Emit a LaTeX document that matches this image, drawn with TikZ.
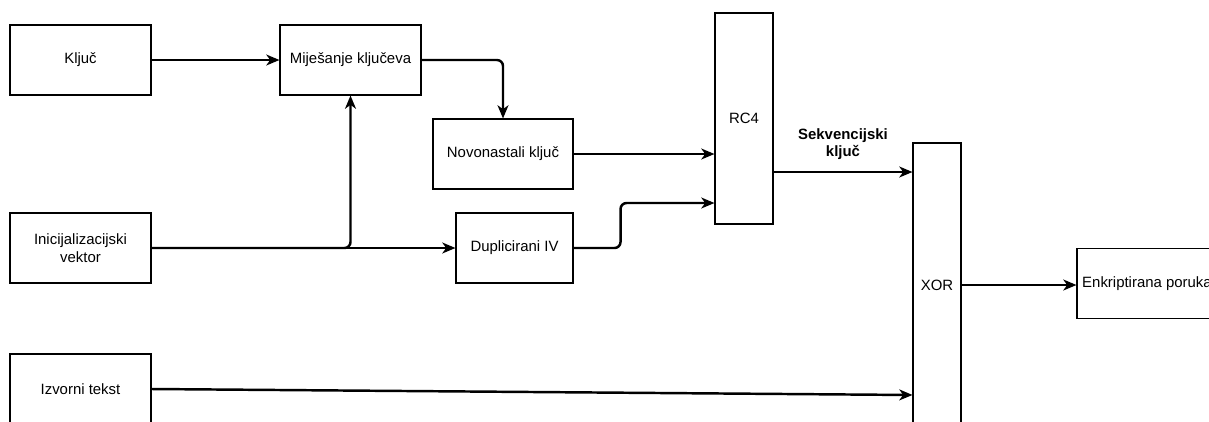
\documentclass[tikz,border=0pt]{standalone}
\usepackage{fontspec}
\setmainfont{Liberation Sans}
\usetikzlibrary{arrows.meta}

\begin{document}
\begin{tikzpicture}[
  box/.style={draw=black, line width=0.6pt, inner sep=0pt, align=center,
    minimum width=2.82cm, minimum height=1.4cm,
    font=\fontsize{8.5}{10}\selectfont},
  arr/.style={line width=1.4pt, rounded corners=0.12cm,
    -{Stealth[length=7.5pt, width=6.2pt, inset=2.2pt]}}
]
\def\xa{1.61};
\def\xb{7.01};
\def\xc{10.06};
\def\xd{10.29};
\def\xe{14.88};
\def\xf{18.74};
\def\xg{22.94};

\def\ya{-1.2};
\def\yb{-3.08};
\def\yc{-4.96};
\def\yd{-7.78};

\useasboundingbox (0,0) rectangle (24.18,-8.42);

\node[box] (kljuc) at (\xa, \ya) {Ključ};
\node[box] (mix) at (\xb, \ya) {Miješanje ključeva};
\node[box, minimum width=2.8cm] (novi) at (\xc, \yb) {Novonastali ključ};
\node[box] (iv) at (\xa, \yc) {Inicijalizacijski\\vektor};
\node[box, minimum width=2.34cm] (dup) at (\xd, \yc) {Duplicirani IV};
\node[box] (izvor) at (\xa, \yd) {Izvorni tekst};

\node[box, minimum width=1.16cm, minimum height=4.22cm] (rc4) at (\xe, -2.37) {RC4};
\node[box, minimum width=0.96cm, minimum height=5.68cm] (xor) at (\xf, -5.7) {XOR};
\node[box, minimum width=2.8cm] (enc) at (\xg, -5.67) {Enkriptirana poruka};

\coordinate (rcin) at ([yshift=-1.69cm]rc4.west);
\coordinate (rcout) at ([yshift=-1.07cm]rc4.east);
\coordinate (xin) at ([yshift=-2.2cm]xor.west);

\draw[arr] (kljuc) -- (mix);
\draw[arr] (mix.east) -| (novi.north);
\draw[arr] (novi.east) -- (novi.east -| rc4.west);
\draw[arr] (iv) -- (dup);
\draw[arr] (iv.east) -| (mix.south);
\draw[arr] (dup.east) -- ++(0.94,0) |- (rcin);
\draw[arr] (rcout) -- (rcout -| xor.west);
\draw[arr] (izvor.east) -- (xin);
\draw[arr] (xor.east) -- (xor.east -| enc.west);

\node[align=center, font=\fontsize{8.5}{10}\selectfont\bfseries] (seq) at (16.86, -2.88) {Sekvencijski\\ključ};

\end{tikzpicture}
\end{document}
